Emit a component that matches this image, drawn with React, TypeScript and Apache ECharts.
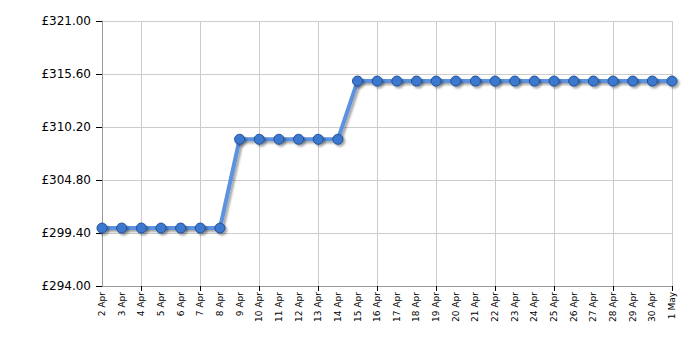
import React, { useEffect, useRef } from "react";
import * as echarts from "echarts";

const categories = [
  "2 Apr", "3 Apr", "4 Apr", "5 Apr", "6 Apr", "7 Apr", "8 Apr", "9 Apr", "10 Apr", "11 Apr",
  "12 Apr", "13 Apr", "14 Apr", "15 Apr", "16 Apr", "17 Apr", "18 Apr", "19 Apr", "20 Apr", "21 Apr",
  "22 Apr", "23 Apr", "24 Apr", "25 Apr", "26 Apr", "27 Apr", "28 Apr", "29 Apr", "30 Apr", "1 May",
];
const prices = [
  299.9, 299.9, 299.9, 299.9, 299.9, 299.9, 299.9,
  308.95, 308.95, 308.95, 308.95, 308.95, 308.95,
  314.88, 314.88, 314.88, 314.88, 314.88, 314.88, 314.88, 314.88, 314.88,
  314.88, 314.88, 314.88, 314.88, 314.88, 314.88, 314.88, 314.88,
];
const yMin = 294;
const yMax = 321;
const yStep = 5.4;

export default function App() {
  const ref = useRef<HTMLDivElement>(null);
  useEffect(() => {
    if (!ref.current) return;
    const chart = echarts.init(ref.current, null, { renderer: "svg" });
    const last = categories.length - 1;
    const gridIdx = (i: number) => (last - i) % 3 === 0;
    chart.setOption({
      animation: false,
      grid: { left: 102, right: 28, top: 21, bottom: 64 },
      xAxis: {
        type: "category",
        data: categories,
        boundaryGap: false,
        axisLine: { lineStyle: { color: "#999", width: 1 } },
        axisTick: { show: true, interval: gridIdx, length: 5, lineStyle: { color: "#000" } },
        splitLine: { show: true, interval: gridIdx, lineStyle: { color: "#ccc", width: 1 } },
        axisLabel: {
          interval: 0,
          rotate: 90,
          fontSize: 9,
          fontFamily: "DejaVu Sans",
          color: "#000",
          margin: 6,
        },
      },
      yAxis: {
        type: "value",
        min: yMin,
        max: yMax,
        interval: yStep,
        axisLine: { show: true, lineStyle: { color: "#999", width: 1 } },
        axisTick: { show: true, length: 6, lineStyle: { color: "#000" } },
        splitLine: { show: true, lineStyle: { color: "#ccc", width: 1 } },
        axisLabel: {
          fontSize: 12,
          fontFamily: "DejaVu Sans",
          color: "#000",
          margin: 11,
          formatter: (v: number) => "£" + v.toFixed(2),
        },
      },
      series: [
        {
          type: "line",
          data: prices,
          symbol: "circle",
          symbolSize: 10,
          lineStyle: {
            color: "#5b92de",
            width: 4,
            shadowColor: "rgba(0,0,0,0.35)",
            shadowBlur: 2,
            shadowOffsetX: 2,
            shadowOffsetY: 2,
          },
          itemStyle: {
            color: "#3c78cf",
            borderColor: "#1f4d96",
            borderWidth: 1,
            shadowColor: "rgba(0,0,0,0.35)",
            shadowBlur: 2,
            shadowOffsetX: 2,
            shadowOffsetY: 2,
          },
        },
      ],
    });
    return () => chart.dispose();
  }, []);
  return <div ref={ref} style={{ width: 700, height: 350, position: "absolute", left: 0, top: 0 }} />;
}
